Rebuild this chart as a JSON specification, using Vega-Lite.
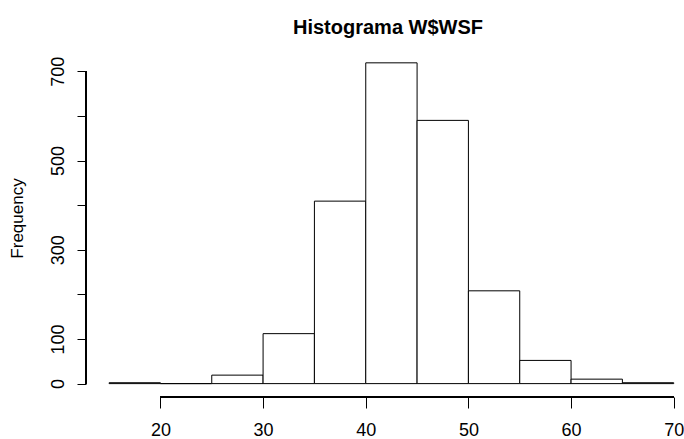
{
  "$schema": "https://vega.github.io/schema/vega-lite/v6.json",
  "autosize": {"type": "none"},
  "padding": {"left": 86, "top": 49, "right": 0, "bottom": 42},
  "width": 598,
  "height": 348,
  "background": "white",
  "title": {
    "text": "Histograma W$WSF",
    "font": "Liberation Sans",
    "fontSize": 20,
    "fontWeight": "bold",
    "color": "black",
    "anchor": "middle",
    "frame": "group",
    "baseline": "alphabetic",
    "offset": 16,
    "dx": 3,
    "dy": 21
  },
  "data": {
    "values": [
      {"start": 15, "end": 20, "count": 2},
      {"start": 20, "end": 25, "count": 0},
      {"start": 25, "end": 30, "count": 19},
      {"start": 30, "end": 35, "count": 112},
      {"start": 35, "end": 40, "count": 409},
      {"start": 40, "end": 45, "count": 719},
      {"start": 45, "end": 50, "count": 590},
      {"start": 50, "end": 55, "count": 208},
      {"start": 55, "end": 60, "count": 52},
      {"start": 60, "end": 65, "count": 10},
      {"start": 65, "end": 70, "count": 2}
    ]
  },
  "layer": [
    {
      "mark": {"type": "rect", "fill": "white", "stroke": "black", "strokeWidth": 1},
      "encoding": {
        "x": {
          "field": "start", "type": "quantitative",
          "scale": {"domain": [12.75, 71], "nice": false, "zero": false},
          "axis": {
            "values": [20, 30, 40, 50, 60, 70],
            "domain": false, "grid": false, "title": null,
            "tickSize": 11, "tickColor": "black", "tickWidth": 1,
            "labelFont": "Liberation Sans", "labelFontSize": 18, "labelColor": "black",
            "labelBaseline": "alphabetic", "labelPadding": 27,
            "labelFlush": false, "labelOverlap": false
          }
        },
        "x2": {"field": "end"},
        "y": {
          "field": "count", "type": "quantitative",
          "scale": {"domain": [-30, 750], "nice": false, "zero": false},
          "axis": {
            "values": [0, 100, 200, 300, 400, 500, 600, 700],
            "labelExpr": "datum.value == 200 || datum.value == 400 || datum.value == 600 ? '' : datum.label",
            "domain": false, "grid": false,
            "tickSize": 9, "tickColor": "black", "tickWidth": 1,
            "labelFont": "Liberation Sans", "labelFontSize": 18, "labelColor": "black",
            "labelAngle": -90, "labelAlign": "center", "labelBaseline": "alphabetic",
            "labelPadding": 14, "labelOverlap": false, "labelFlush": false,
            "title": "Frequency",
            "titleFont": "Liberation Sans", "titleFontSize": 17, "titleFontWeight": "normal",
            "titleColor": "black", "titleAngle": -90, "titleAlign": "center",
            "titleBaseline": "alphabetic", "titleX": -64, "titleY": 169
          }
        },
        "y2": {"datum": 0}
      }
    },
    {
      "mark": {"type": "rule", "color": "black", "strokeWidth": 1},
      "encoding": {
        "x": {"datum": 20, "type": "quantitative"},
        "x2": {"datum": 70},
        "y": {"datum": -30, "type": "quantitative"}
      }
    },
    {
      "mark": {"type": "rule", "color": "black", "strokeWidth": 1},
      "encoding": {
        "x": {"datum": 12.75, "type": "quantitative"},
        "y": {"datum": 0, "type": "quantitative"},
        "y2": {"datum": 700}
      }
    }
  ],
  "config": {"view": {"stroke": null}}
}
